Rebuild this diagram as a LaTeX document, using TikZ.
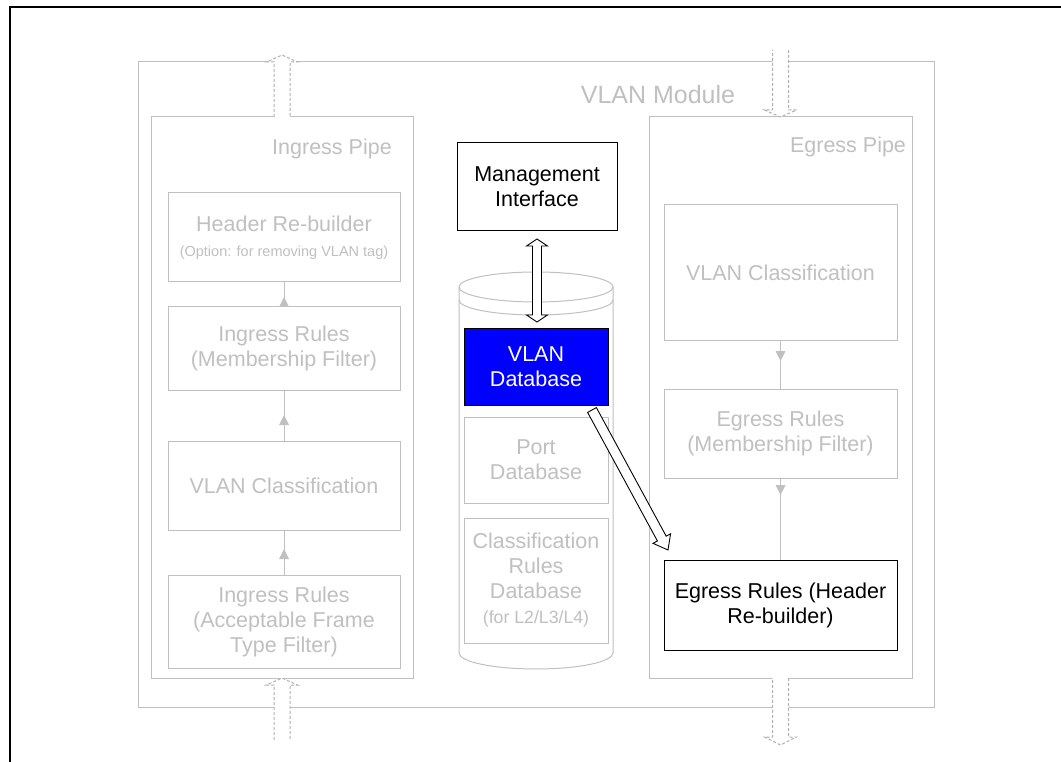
\documentclass[tikz,border=0pt]{standalone}
\usepackage{fontspec}
\setmainfont{Liberation Sans}
\usetikzlibrary{calc,decorations.markings}
\definecolor{lgray}{RGB}{192,192,192}
\definecolor{dgray}{RGB}{176,176,176}
\definecolor{dbblue}{RGB}{0,0,255}

% closed hollow arrow: [style]{from}{to}{half shaft}{half head}{head length}
\newcommand\hollowarrow[6][]{%
  \filldraw[#1] let \p1=(#2), \p2=(#3),
      \n1={atan2(\y2-\y1,\x2-\x1)}, \n2={veclen(\x2-\x1,\y2-\y1)} in
    ($(\p1)+({\n1+90}:#4)$)
 -- ($(\p1)+({\n1}:{\n2-#6})+({\n1+90}:#4)$)
 -- ($(\p1)+({\n1}:{\n2-#6})+({\n1+90}:#5)$)
 -- (\p2)
 -- ($(\p1)+({\n1}:{\n2-#6})+({\n1-90}:#5)$)
 -- ($(\p1)+({\n1}:{\n2-#6})+({\n1-90}:#4)$)
 -- ($(\p1)+({\n1-90}:#4)$) -- cycle;}

% hollow arrow with heads at both ends: [style]{from}{to}{half shaft}{half head}{head length}
\newcommand\hollowdarrow[6][]{%
  \filldraw[#1] let \p1=(#2), \p2=(#3),
      \n1={atan2(\y2-\y1,\x2-\x1)}, \n2={veclen(\x2-\x1,\y2-\y1)} in
    (\p1)
 -- ($(\p1)+({\n1}:#6)+({\n1+90}:#5)$)
 -- ($(\p1)+({\n1}:#6)+({\n1+90}:#4)$)
 -- ($(\p1)+({\n1}:{\n2-#6})+({\n1+90}:#4)$)
 -- ($(\p1)+({\n1}:{\n2-#6})+({\n1+90}:#5)$)
 -- (\p2)
 -- ($(\p1)+({\n1}:{\n2-#6})+({\n1-90}:#5)$)
 -- ($(\p1)+({\n1}:{\n2-#6})+({\n1-90}:#4)$)
 -- ($(\p1)+({\n1}:#6)+({\n1-90}:#4)$)
 -- ($(\p1)+({\n1}:#6)+({\n1-90}:#5)$) -- cycle;}

% dashed port arrow, open at its tail: {from}{to}{half shaft}{half head}{head length}
\newcommand\portarrow[5]{%
  \fill[white] let \p1=(#1), \p2=(#2),
      \n1={atan2(\y2-\y1,\x2-\x1)}, \n2={veclen(\x2-\x1,\y2-\y1)} in
    ($(\p1)+({\n1}:-1)+({\n1+90}:#3)$)
 -- ($(\p1)+({\n1}:{\n2-#5})+({\n1+90}:#3)$)
 -- ($(\p1)+({\n1}:{\n2-#5})+({\n1+90}:#4)$)
 -- (\p2)
 -- ($(\p1)+({\n1}:{\n2-#5})+({\n1-90}:#4)$)
 -- ($(\p1)+({\n1}:{\n2-#5})+({\n1-90}:#3)$)
 -- ($(\p1)+({\n1}:-1)+({\n1-90}:#3)$) -- cycle;
  \draw[portline] let \p1=(#1), \p2=(#2),
      \n1={atan2(\y2-\y1,\x2-\x1)}, \n2={veclen(\x2-\x1,\y2-\y1)} in
    ($(\p1)+({\n1+90}:#3)$)
 -- ($(\p1)+({\n1}:{\n2-#5})+({\n1+90}:#3)$)
 -- ($(\p1)+({\n1}:{\n2-#5})+({\n1+90}:#4)$)
 -- (\p2)
 -- ($(\p1)+({\n1}:{\n2-#5})+({\n1-90}:#4)$)
 -- ($(\p1)+({\n1}:{\n2-#5})+({\n1-90}:#3)$)
 -- ($(\p1)+({\n1-90}:#3)$);}

\begin{document}
\begin{tikzpicture}[x=1pt,y=1pt,
  every node/.style={inner sep=0pt, outer sep=0pt},
  txt/.style={font=\fontsize{21.5}{25}\selectfont, align=center},
  gbox/.style={draw=lgray, line width=1pt, fill=white, anchor=north west, txt, text=lgray},
  kbox/.style={draw=black, line width=1pt, fill=white, anchor=north west, txt, text=black},
  frame/.style={draw=lgray, line width=1pt, fill=white, anchor=north west},
  glabel/.style={text=lgray, font=\fontsize{21.5}{25}\selectfont},
  small/.style={font=\fontsize{14.5}{17}\selectfont},
  portline/.style={draw=dgray, line width=1pt, dash pattern=on 3pt off 2pt},
  conn/.style={draw=lgray, line width=1pt, postaction={decorate},
    decoration={markings, mark=at position #1 with
      {\fill[lgray] (0pt,0pt) -- (-10pt,5pt) -- (-10pt,-5pt) -- cycle;}}},
  bigarrow/.style={draw=black, line width=0.9pt, fill=white, line join=miter}
]
\useasboundingbox (0,0) rectangle (1061,-762);

% page frame
\draw[line width=2.2pt] (1063,-7) -- (10,-7) -- (10,-764);

% module and pipes
\node[frame, minimum width=796pt, minimum height=645pt] (mod) at (138,-62) {};
\node[glabel, font=\fontsize{25}{29}\selectfont] (modlbl) at (658,-95) {VLAN Module};
\node[frame, minimum width=262pt, minimum height=561pt] (ip) at (151,-117) {};
\node[glabel] (iplbl) at (332,-149) {Ingress Pipe};
\node[frame, minimum width=263pt, minimum height=561pt] (ep) at (649,-117) {};
\node[glabel] (eplbl) at (848,-147) {Egress Pipe};

% ingress pipe stages
\node[gbox, minimum width=232pt, minimum height=89pt] (hrb) at (168,-193)
  {Header Re-builder\\{\small\fontsize{14.5}{17}\selectfont (Option: for removing VLAN tag)}};
\node[gbox, minimum width=232pt, minimum height=83pt] (irm) at (168,-307)
  {Ingress Rules\\(Membership Filter)};
\node[gbox, minimum width=232pt, minimum height=89pt] (ivc) at (168,-441)
  {VLAN Classification};
\node[gbox, minimum width=232pt, minimum height=93pt] (iaf) at (168,-575)
  {Ingress Rules\\(Acceptable Frame\\Type Filter)};

\draw[conn=10pt] (irm.north) -- (hrb.south);
\draw[conn=26pt] (ivc.north) -- (irm.south);
\draw[conn=26pt] (iaf.north) -- (ivc.south);

% egress pipe stages
\node[gbox, minimum width=233pt, minimum height=135pt] (evc) at (664,-205)
  {VLAN Classification};
\node[gbox, minimum width=233pt, minimum height=89pt] (erm) at (664,-389)
  {Egress Rules\\(Membership Filter)};
\node[kbox, minimum width=233pt, minimum height=90pt] (ehb) at (664,-560)
  {Egress Rules (Header\\Re-builder)};

\draw[conn=21pt] (evc.south) -- (erm.north);
\draw[conn=17pt] (erm.south) -- (ehb.north);

% database cylinder
\draw[lgray, line width=1pt, fill=white]
  (459,-287) -- (459,-653) arc[start angle=180, end angle=360, x radius=77, y radius=16]
  -- (613,-287) arc[start angle=0, end angle=180, x radius=77, y radius=15] -- cycle;
\draw[lgray, line width=1pt] (459,-287) arc[start angle=180, end angle=360, x radius=77, y radius=15];
\draw[lgray, line width=1pt] (459,-300) arc[start angle=180, end angle=360, x radius=77, y radius=15];

\node[kbox, fill=dbblue, text=white, minimum width=144pt, minimum height=77pt] (vdb) at (464,-328)
  {VLAN\\Database};
\node[gbox, minimum width=144pt, minimum height=86pt] (pdb) at (464,-417)
  {Port\\Database};
\node[gbox, minimum width=144pt, minimum height=125pt] (crd) at (464,-518)
  {Classification\\Rules\\Database\\{\fontsize{17.7}{25}\selectfont (for L2/L3/L4)}};

% management interface
\node[kbox, minimum width=160pt, minimum height=88pt] (mgmt) at (457,-143)
  {Management\\Interface};

% data paths
\coordinate (mgmtport) at ($(mgmt.south)+(0,-8)$);
\coordinate (dbport) at ($(mgmt.south |- vdb.north)+(0,6)$);
\hollowdarrow[bigarrow]{mgmtport}{dbport}{4.5}{10.5}{7}

\coordinate (dbout) at ($(vdb.south east)+(-16,-5)$);
\coordinate (ehbin) at ($(ehb.north west)+(4,10)$);
\hollowarrow[bigarrow]{dbout}{ehbin}{5}{10}{13}

% frame ports
\coordinate (ingin) at ($(ip.south)+(0,-62)$);
\coordinate (ingout) at ($(ip.north)+(0,62)$);
\coordinate (egin) at ($(ep.north)+(0,67)$);
\coordinate (egout) at ($(ep.south)+(0,-67)$);
\portarrow{ingin}{ip.south}{8}{15.5}{7}
\portarrow{ip.north}{ingout}{8}{15.5}{7}
\portarrow{egin}{ep.north}{8}{16}{7}
\portarrow{ep.south}{egout}{8}{16}{8}
\end{tikzpicture}
\end{document}
